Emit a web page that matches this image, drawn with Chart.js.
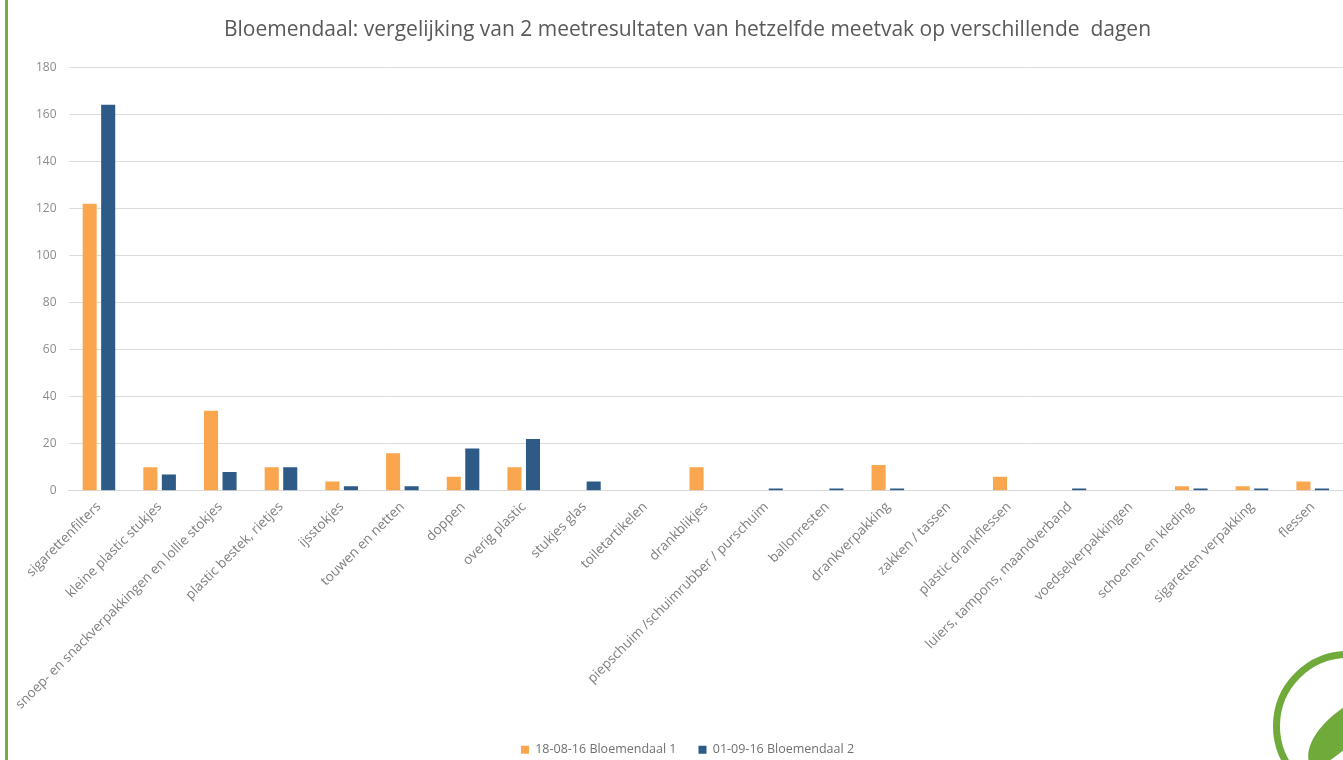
<!DOCTYPE html>
<html>
<head>
<meta charset="utf-8">
<script src="https://cdn.jsdelivr.net/npm/chart.js@4"></script>
<style>
  html, body { margin: 0; padding: 0; background: #fff; overflow: hidden; }
  #wrap { position: relative; width: 1343px; height: 768px; }
  #rand { position: absolute; left: 5px; top: 0; width: 3px; height: 768px; background: #72ad3c; }
  #logo { position: absolute; left: 1273px; top: 651px; width: 150px; height: 150px;
          border: 7px solid #6faa3a; border-radius: 50%; box-sizing: border-box; }
  #blad { position: absolute; left: 1298px; top: 712px; width: 80px; height: 42px;
          background: #6faa3a; border-radius: 90% 0 90% 0; transform: rotate(-28deg); }
</style>
</head>
<body>
<div id="wrap">
  <div id="rand"></div>
  <canvas id="grafiek"></canvas>
  <div id="logo"></div>
  <div id="blad"></div>
</div>
<script>
const titel = "Bloemendaal: vergelijking van 2 meetresultaten van hetzelfde meetvak op verschillende  dagen";

const categorieen = [
  "sigarettenfilters",
  "kleine plastic stukjes",
  "snoep- en snackverpakkingen en lollie stokjes",
  "plastic bestek, rietjes",
  "ijsstokjes",
  "touwen en netten",
  "doppen",
  "overig plastic",
  "stukjes glas",
  "toiletartikelen",
  "drankblikjes",
  "piepschuim /schuimrubber / purschuim",
  "ballonresten",
  "drankverpakking",
  "zakken / tassen",
  "plastic drankflessen",
  "luiers, tampons, maandverband",
  "voedselverpakkingen",
  "schoenen en kleding",
  "sigaretten verpakking",
  "flessen"
];

const meting1 = [122, 10, 34, 10, 4, 16, 6, 10, 0, 0, 10, 0, 0, 11, 0, 6, 0, 0, 2, 2, 4];
const meting2 = [164, 7, 8, 10, 2, 2, 18, 22, 4, 0, 0, 1, 1, 1, 0, 0, 1, 0, 1, 1, 1];

const labelMeting1 = "18-08-16 Bloemendaal 1";
const labelMeting2 = "01-09-16 Bloemendaal 2";

const yTicks = [0, 20, 40, 60, 80, 100, 120, 140, 160, 180];

new Chart(document.getElementById("grafiek"), {
  type: "bar",
  data: {
    labels: categorieen,
    datasets: [
      { label: labelMeting1, data: meting1, backgroundColor: "#f9a64e" },
      { label: labelMeting2, data: meting2, backgroundColor: "#2d5a87" }
    ]
  },
  options: {
    responsive: true,
    maintainAspectRatio: false,
    animation: false,
    layout: { padding: { left: 24, right: -8, top: 8, bottom: 2 } },
    datasets: { bar: { categoryPercentage: 0.61, barPercentage: 0.76 } },
    plugins: {
      title: {
        display: true,
        text: titel,
        color: "#595959",
        font: { family: "Open Sans", size: 21, weight: "normal" },
        padding: { top: 9, bottom: 25 }
      },
      legend: {
        position: "bottom",
        labels: {
          color: "#707070",
          font: { family: "Open Sans", size: 12.5 },
          boxWidth: 8,
          boxHeight: 8,
          padding: 22
        }
      },
      tooltip: { enabled: false }
    },
    scales: {
      x: {
        grid: { display: false },
        border: { color: "#d9d9d9" },
        afterFit: s => { s.height += 9; },
        ticks: {
          color: "#808080",
          font: { family: "Open Sans", size: 13.5 },
          maxRotation: 45,
          minRotation: 45,
          autoSkip: false,
          padding: 0
        }
      },
      y: {
        min: 0,
        max: 180,
        afterBuildTicks: s => { s.ticks = yTicks.map(v => ({ value: v })); },
        grid: { color: "#dcdcdc", drawTicks: false },
        border: { display: false },
        ticks: {
          color: "#8c8c8c",
          font: { family: "Open Sans", size: 12 },
          padding: 12
        }
      }
    }
  }
});
</script>
</body>
</html>
